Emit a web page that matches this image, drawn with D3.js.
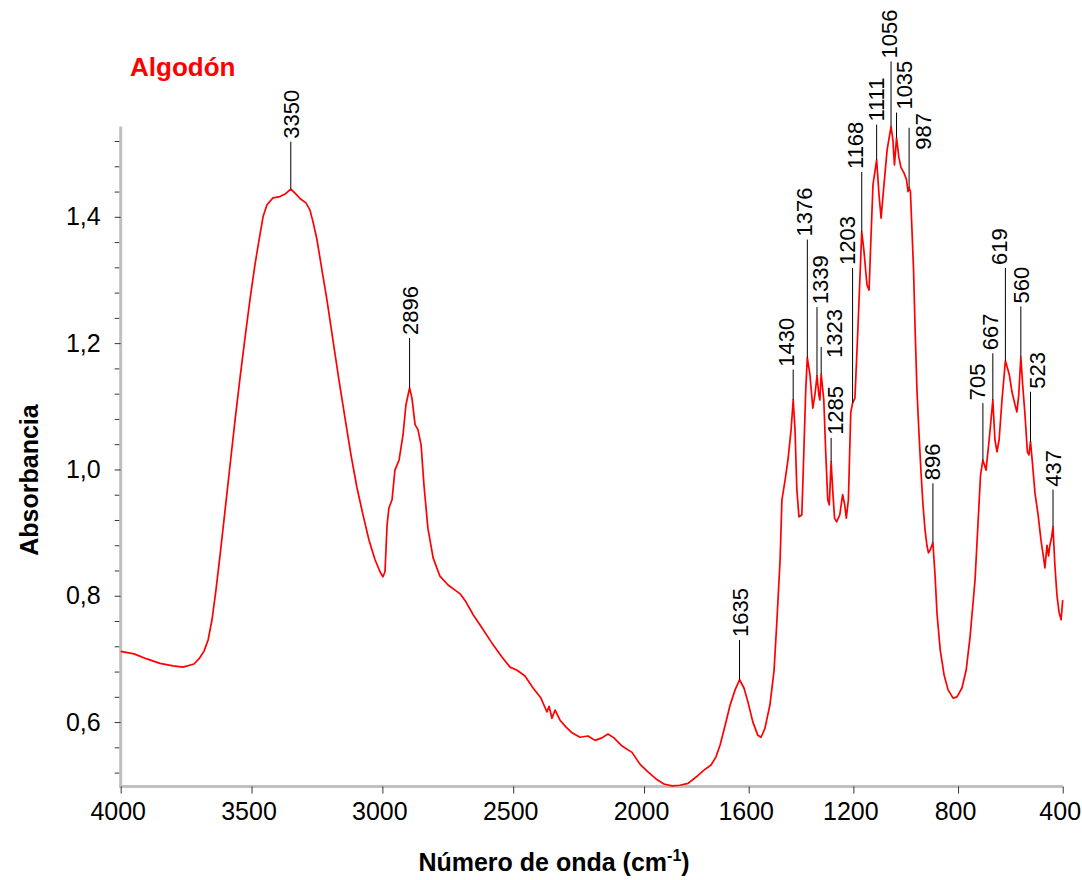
<!DOCTYPE html>
<html>
<head>
<meta charset="utf-8">
<script src="https://cdn.jsdelivr.net/npm/d3@7"></script>
<style>
  body { margin: 0; background: #fff; }
  svg { display: block; }
  text { font-family: "Liberation Sans", Arial, Helvetica, sans-serif; }
</style>
</head>
<body>
<svg id="chart" width="1082" height="880"></svg>
<script>
// FTIR spectrum of cotton: wavenumber (cm-1) and absorbance
const wavenumber = [
  4000, 3949, 3900, 3850, 3800, 3762, 3720, 3701, 3682, 3666,
  3651, 3636, 3620, 3601, 3582, 3563, 3544, 3525, 3506, 3487,
  3471, 3456, 3441, 3418, 3391, 3372, 3350, 3330, 3315, 3292,
  3277, 3265, 3250, 3231, 3212, 3189, 3166, 3143, 3120, 3097,
  3074, 3051, 3028, 3009, 2998, 2990, 2982, 2975, 2963, 2952,
  2936, 2921, 2910, 2896, 2887, 2875, 2864, 2852, 2841, 2826,
  2806, 2780, 2749, 2722, 2703, 2680, 2653, 2619, 2581, 2543,
  2512, 2485, 2455, 2424, 2394, 2371, 2363, 2352, 2340, 2321,
  2298, 2275, 2245, 2214, 2187, 2161, 2138, 2115, 2084, 2046,
  2015, 1985, 1954, 1924, 1893, 1863, 1832, 1801, 1771, 1744,
  1725, 1709, 1690, 1671, 1652, 1635, 1618, 1603, 1584, 1565,
  1553, 1538, 1519, 1503, 1492, 1480, 1473, 1461, 1450, 1438,
  1430, 1423, 1416, 1408, 1397, 1389, 1382, 1376, 1366, 1355,
  1347, 1339, 1332, 1328, 1323, 1313, 1306, 1298, 1292, 1285,
  1279, 1272, 1264, 1252, 1241, 1233, 1227, 1219, 1210, 1203,
  1194, 1182, 1168, 1160, 1148, 1140, 1133, 1125, 1111, 1102,
  1094, 1083, 1071, 1056, 1049, 1043, 1035, 1026, 1018, 1007,
  997, 991, 987, 982, 976, 970, 964, 957, 949, 942,
  934, 926, 919, 913, 907, 896, 888, 880, 868, 853,
  838, 819, 804, 785, 769, 754, 735, 723, 714, 705,
  693, 681, 667, 659, 651, 643, 632, 619, 604, 594,
  582, 575, 568, 560, 553, 544, 535, 529, 523, 515,
  506, 494, 483, 473, 468, 460, 454, 449, 443, 437,
  430, 422, 414, 406, 400
];
const absorbance = [
  0.712, 0.708, 0.700, 0.693, 0.689, 0.687, 0.692, 0.700, 0.712, 0.730,
  0.762, 0.809, 0.865, 0.936, 1.007, 1.078, 1.145, 1.208, 1.269, 1.324,
  1.364, 1.400, 1.419, 1.430, 1.432, 1.436, 1.444, 1.436, 1.429, 1.422,
  1.411, 1.392, 1.364, 1.316, 1.269, 1.205, 1.142, 1.082, 1.023, 0.971,
  0.928, 0.888, 0.857, 0.838, 0.830, 0.838, 0.912, 0.939, 0.952, 0.999,
  1.015, 1.055, 1.102, 1.129, 1.113, 1.071, 1.063, 1.039, 0.975, 0.907,
  0.860, 0.831, 0.817, 0.809, 0.803, 0.790, 0.770, 0.749, 0.725, 0.703,
  0.687, 0.682, 0.673, 0.654, 0.638, 0.616, 0.625, 0.606, 0.619, 0.603,
  0.592, 0.583, 0.576, 0.578, 0.571, 0.575, 0.581, 0.575, 0.562, 0.552,
  0.533, 0.521, 0.510, 0.502, 0.499, 0.500, 0.503, 0.513, 0.524, 0.532,
  0.545, 0.564, 0.595, 0.627, 0.651, 0.667, 0.654, 0.632, 0.600, 0.579,
  0.576, 0.590, 0.627, 0.682, 0.762, 0.857, 0.952, 0.983, 1.015, 1.063,
  1.110, 1.063, 0.968, 0.925, 0.928, 1.031, 1.126, 1.177, 1.150, 1.097,
  1.118, 1.148, 1.118, 1.110, 1.151, 1.110, 1.031, 0.952, 0.944, 1.012,
  0.968, 0.923, 0.917, 0.928, 0.960, 0.944, 0.923, 0.952, 1.090, 1.105,
  1.113, 1.229, 1.376, 1.348, 1.292, 1.284, 1.364, 1.451, 1.490, 1.435,
  1.398, 1.451, 1.506, 1.543, 1.522, 1.482, 1.525, 1.494, 1.478, 1.470,
  1.459, 1.440, 1.446, 1.440, 1.379, 1.316, 1.221, 1.126, 1.055, 0.999,
  0.944, 0.904, 0.880, 0.868, 0.872, 0.884, 0.833, 0.770, 0.714, 0.674,
  0.651, 0.638, 0.640, 0.654, 0.682, 0.735, 0.825, 0.920, 0.991, 1.015,
  0.999, 1.047, 1.110, 1.047, 1.028, 1.047, 1.110, 1.172, 1.150, 1.123,
  1.102, 1.091, 1.118, 1.178, 1.134, 1.086, 1.028, 1.023, 1.044, 1.007,
  0.963, 0.928, 0.888, 0.860, 0.844, 0.880, 0.863, 0.880, 0.891, 0.909,
  0.849, 0.801, 0.774, 0.762, 0.793
];

// Labelled band positions (cm-1) and the absorbance where each leader line ends
const peakWavenumbers = [3350, 2896, 1635, 1430, 1376, 1339, 1323, 1285, 1203, 1168, 1111, 1056, 1035, 987, 896, 705, 667, 619, 560, 523, 437];
const leaderTop = [1.519, 1.208, 0.730, 1.158, 1.364, 1.257, 1.194, 1.050, 1.319, 1.471, 1.546, 1.646, 1.565, 1.541, 0.978, 1.105, 1.184, 1.319, 1.258, 1.123, 0.968];

const xTickValues = [4000, 3500, 3000, 2500, 2000, 1600, 1200, 800, 400];
const yTickValues = [0.6, 0.8, 1.0, 1.2, 1.4];
const yMinorTickValues = [0.52, 0.56, 0.64, 0.68, 0.72, 0.76, 0.84, 0.88, 0.92, 0.96,
                          1.04, 1.08, 1.12, 1.16, 1.24, 1.28, 1.32, 1.36, 1.44, 1.48, 1.52];

// Label placement tweaks (pixels): horizontal shift of the text, and vertical drop
const labelNudge = {
  1430: [-7, 0], 1376: [-3, 0], 1339: [3, 0], 1323: [13, 14], 1285: [4, 0],
  1203: [-6, 0], 1168: [-7, 0], 1111: [-1, 0], 1056: [-2, 0], 1035: [7, 0],
  987: [14, 25], 896: [-1, 0], 705: [-6, 0], 667: [-3, 0], 619: [-6, 0], 523: [6, 0]
};

const spectrum = wavenumber.map((w, i) => ({ w, a: absorbance[i] }));

const svg = d3.select("#chart");
svg.append("rect").attr("width", 1082).attr("height", 880).attr("fill", "#fff");

const x = d3.scaleLinear().domain([4000, 400]).range([120.7, 1062.7]);
const y = d3.scaleLinear().domain([0.498, 1.543]).range([786.5, 126.5]);

const es = d3.formatLocale({ decimal: ",", thousands: ".", grouping: [3], currency: ["", " €"] });

// Y axis: minor ticks first, then major ticks with labels
const yMinor = svg.append("g").attr("transform", `translate(${x(4000)},0)`)
  .call(d3.axisLeft(y).tickValues(yMinorTickValues).tickSize(6).tickFormat(""));
const yAxis = svg.append("g").attr("transform", `translate(${x(4000)},0)`)
  .call(d3.axisLeft(y).tickValues(yTickValues).tickSize(6).tickPadding(14).tickFormat(es.format(".1f")));

const xAxis = svg.append("g").attr("transform", `translate(0,${y.range()[0]})`)
  .call(d3.axisBottom(x).tickValues(xTickValues).tickSize(7).tickSizeOuter(0).tickPadding(9).tickFormat(d3.format("d")));

[yMinor, yAxis, xAxis].forEach(g => {
  g.select(".domain").attr("stroke", "#c0c0c0").attr("stroke-width", 3);
  g.selectAll(".tick line").attr("stroke", "#333").attr("stroke-width", 1);
  g.selectAll(".tick text").attr("fill", "#000").attr("font-size", 25)
    .attr("font-family", '"Liberation Sans", Arial, sans-serif');
});
xAxis.selectAll(".tick text").attr("dx", -3);
yMinor.select(".domain").remove();
yAxis.select(".domain").attr("d", `M0,${y.range()[0] + 1.5}V${y.range()[1]}`);
xAxis.select(".domain").attr("d", `M${x(4000) - 1.5},0H${x(400)}`);

// Spectrum trace
const line = d3.line().x(d => x(d.w)).y(d => y(d.a));
svg.append("path").datum(spectrum)
  .attr("d", line)
  .attr("fill", "none")
  .attr("stroke", "#ff0000")
  .attr("stroke-width", 1.7)
  .attr("stroke-linejoin", "round");

// Band labels with leader lines
const peakGroup = svg.append("g");
peakWavenumbers.forEach((w, i) => {
  const pt = spectrum.find(d => d.w === w);
  const px = x(w);
  const yPeak = y(pt.a);
  const yTop = y(leaderTop[i]);
  const [dx, dy] = labelNudge[w] || [0, 0];
  peakGroup.append("line")
    .attr("x1", px).attr("x2", px)
    .attr("y1", yPeak).attr("y2", yTop)
    .attr("stroke", "#000").attr("stroke-width", 1);
  peakGroup.append("text")
    .attr("transform", `translate(${px + dx + 8},${yTop - 3 + dy}) rotate(-90)`)
    .attr("font-size", 22)
    .attr("fill", "#000")
    .text(w);
});

// Titles
svg.append("text")
  .attr("x", 130).attr("y", 76)
  .attr("font-size", 26).attr("font-weight", "bold").attr("fill", "#ff0000")
  .text("Algodón");

svg.append("text")
  .attr("transform", `translate(38,480) rotate(-90)`)
  .attr("text-anchor", "middle")
  .attr("font-size", 25).attr("font-weight", "bold").attr("fill", "#000")
  .text("Absorbancia");

const xt = svg.append("text")
  .attr("x", 554).attr("y", 871)
  .attr("text-anchor", "middle")
  .attr("font-size", 25).attr("font-weight", "bold").attr("fill", "#000");
xt.append("tspan").text("Número de onda (cm");
xt.append("tspan").attr("font-size", 16).attr("dy", -10).text("-1");
xt.append("tspan").attr("dy", 10).text(")");
</script>
</body>
</html>
